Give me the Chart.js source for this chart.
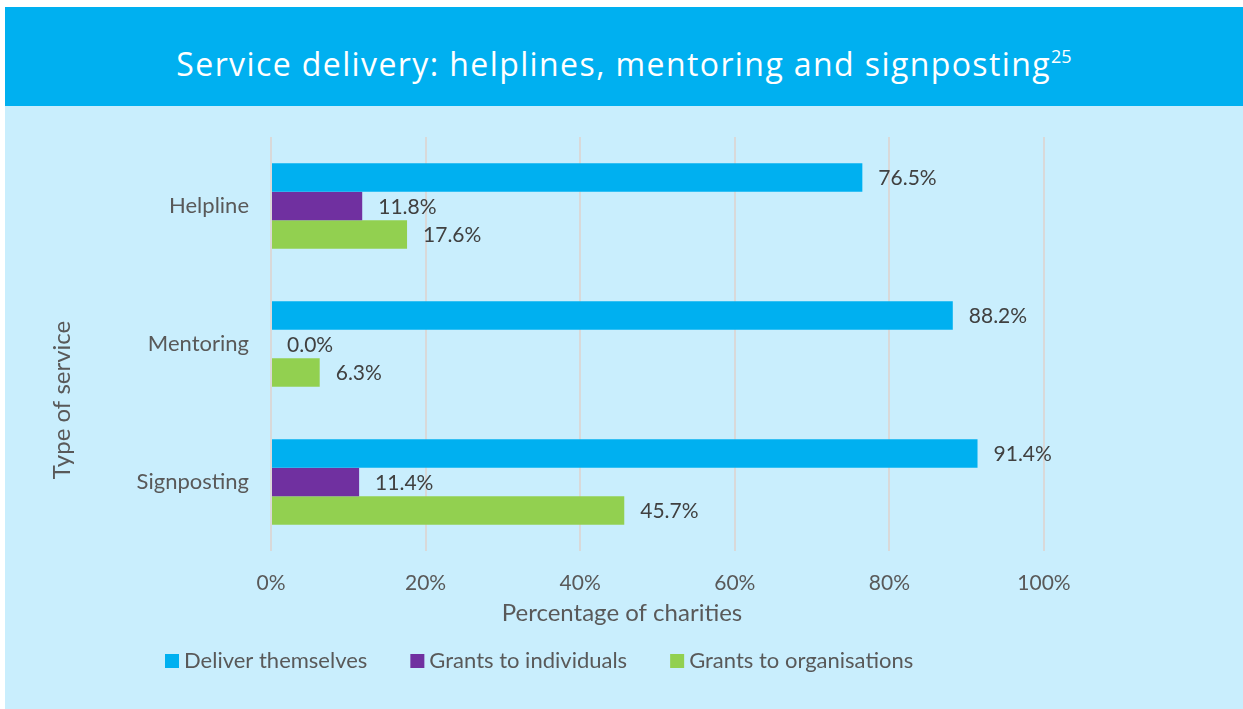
<!DOCTYPE html>
<html>
<head>
<meta charset="utf-8">
<script src="https://cdn.jsdelivr.net/npm/chart.js@4"></script>
<style>
  html, body { margin: 0; padding: 0; background: #ffffff; }
  body { width: 1243px; height: 709px; position: relative; overflow: hidden; }
  #header {
    position: absolute; left: 5px; top: 7px; width: 1238px; height: 99px;
    background: #00b0f0; color: #ffffff;
    font-family: "Open Sans", sans-serif; font-weight: 500; font-size: 32px;
    letter-spacing: 1.4px;
    text-align: center; padding-top: 22px; box-sizing: border-box;
    line-height: 70px;
  }
  #header sup { font-size: 18px; vertical-align: 13px; line-height: 0; font-weight: 500; letter-spacing: 0; }
  #panel {
    position: absolute; left: 5px; top: 106px; width: 1238px; height: 603px;
    background: #c9eefd;
  }
</style>
</head>
<body>
<div id="header">Service delivery: helplines, mentoring and signposting<sup>25</sup></div>
<div id="panel"><canvas id="chart" width="1238" height="603"></canvas></div>
<script>
// categories and series
const services = ['Helpline', 'Mentoring', 'Signposting'];
const deliverThemselves = [76.5, 88.2, 91.4];
const grantsIndividuals = [11.8, 0.0, 11.4];
const grantsOrganisations = [17.6, 6.3, 45.7];
const seriesNames = ['Deliver themselves', 'Grants to individuals', 'Grants to organisations'];
const seriesColors = ['#00b0f0', '#7030a0', '#92d050'];
const xTicks = [0, 20, 40, 60, 80, 100];

const FONT = 'Lato, "Open Sans", sans-serif';

// value labels next to each bar
const valueLabels = {
    id: 'valueLabels',
    afterDatasetsDraw(chart) {
        const ctx = chart.ctx;
        ctx.save();
        ctx.font = '21px ' + FONT;
        ctx.fillStyle = '#404040';
        ctx.textBaseline = 'middle';
        ctx.textAlign = 'left';
        chart.data.datasets.forEach((ds, i) => {
            chart.getDatasetMeta(i).data.forEach((bar, j) => {
                ctx.fillText(ds.data[j].toFixed(1) + '%', bar.x + 16, bar.y + 1);
            });
        });
        ctx.restore();
    }
};

// axis titles and the legend, placed like the original
const extras = {
    id: 'extras',
    afterDraw(chart) {
        const ctx = chart.ctx;
        ctx.save();
        ctx.fillStyle = '#595959';
        ctx.textBaseline = 'middle';

        ctx.font = '24px ' + FONT;
        ctx.textAlign = 'center';
        ctx.fillText('Percentage of charities', 617, 507);

        ctx.save();
        ctx.translate(57, 294);
        ctx.rotate(-Math.PI / 2);
        ctx.fillText('Type of service', 0, 0);
        ctx.restore();

        // legend
        ctx.font = '22px ' + FONT;
        ctx.textAlign = 'left';
        let x = 160;
        const y = 555;
        chart.data.datasets.forEach((ds) => {
            ctx.fillStyle = ds.backgroundColor;
            ctx.fillRect(x, y - 7, 14, 14);
            ctx.fillStyle = '#595959';
            ctx.fillText(ds.label, x + 19, y);
            x += 19 + ctx.measureText(ds.label).width + 43;
        });
        ctx.restore();
    }
};

new Chart(document.getElementById('chart'), {
    type: 'bar',
    data: {
        labels: services,
        datasets: [
            { label: seriesNames[0], data: deliverThemselves, backgroundColor: seriesColors[0] },
            { label: seriesNames[1], data: grantsIndividuals, backgroundColor: seriesColors[1] },
            { label: seriesNames[2], data: grantsOrganisations, backgroundColor: seriesColors[2] }
        ]
    },
    options: {
        indexAxis: 'y',
        responsive: false,
        animation: false,
        layout: { padding: { top: 31, right: 199, bottom: 0, left: 0 } },
        datasets: { bar: { categoryPercentage: 0.62, barPercentage: 1 } },
        plugins: {
            legend: { display: false },
            tooltip: { enabled: false }
        },
        scales: {
            x: {
                min: 0,
                max: 100,
                afterFit(scale) { scale.height = 158; },
                afterBuildTicks(scale) { scale.ticks = xTicks.map(v => ({ value: v })); },
                grid: { color: '#d9d9d9', lineWidth: 2, drawTicks: false },
                border: { display: false },
                ticks: {
                    padding: 20,
                    color: '#595959',
                    font: { family: FONT, size: 21 },
                    callback: v => v + '%'
                }
            },
            y: {
                afterFit(scale) {
                    scale.width = 266;
                    scale.paddingTop = 0;
                    scale.paddingBottom = 0;
                },
                grid: { display: false, drawTicks: false },
                border: { display: false },
                ticks: {
                    padding: 22,
                    color: '#595959',
                    font: { family: FONT, size: 22 }
                }
            }
        }
    },
    plugins: [valueLabels, extras]
});
</script>
</body>
</html>
